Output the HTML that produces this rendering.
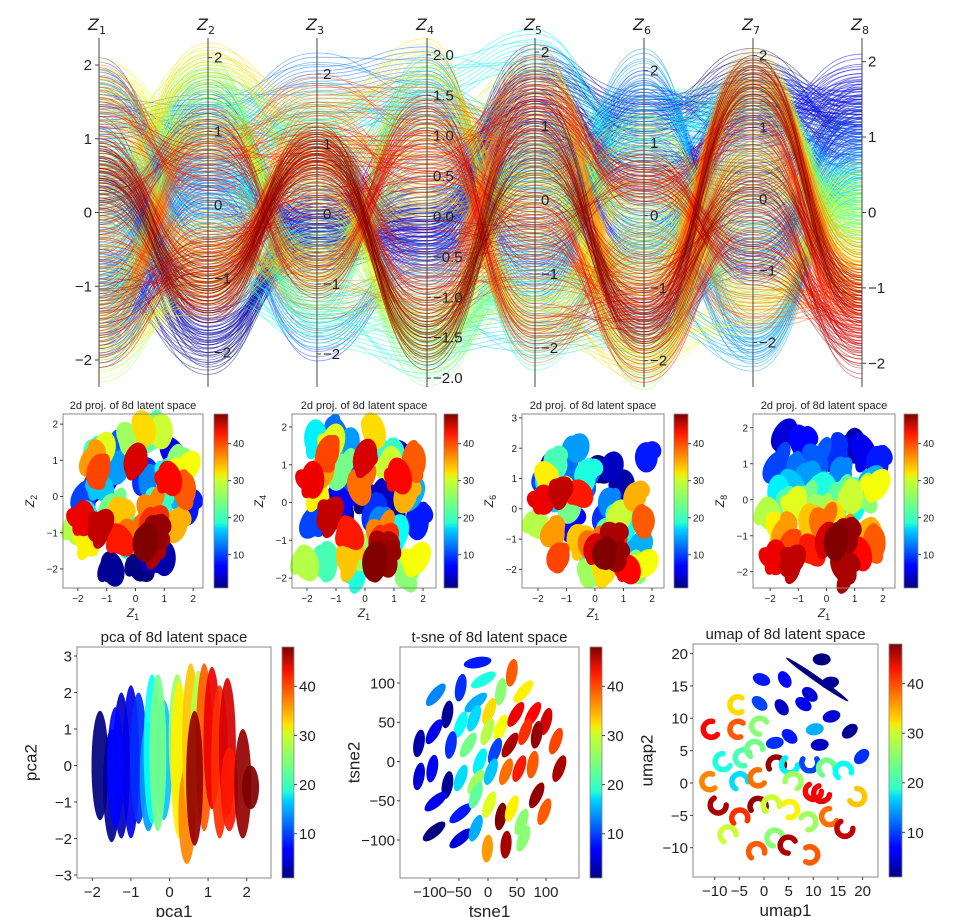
<!DOCTYPE html>
<html><head><meta charset="utf-8"><title>latent space</title>
<style>
html,body{margin:0;padding:0;background:#fff;}
svg{display:block;font-family:"Liberation Sans","DejaVu Sans",sans-serif;}
</style></head>
<body>
<svg id="fig" width="955" height="917" viewBox="0 0 955 917" xmlns="http://www.w3.org/2000/svg">
<defs>
<linearGradient id="jetgrad" x1="0" y1="1" x2="0" y2="0">
<stop offset="0" stop-color="#00007f"/><stop offset="0.11" stop-color="#0000ff"/><stop offset="0.125" stop-color="#0000ff"/><stop offset="0.34" stop-color="#00d4ff"/><stop offset="0.375" stop-color="#29ffce"/><stop offset="0.5" stop-color="#7dff7a"/><stop offset="0.625" stop-color="#ceff29"/><stop offset="0.66" stop-color="#ffe500"/><stop offset="0.89" stop-color="#ff1600"/><stop offset="1" stop-color="#7f0000"/>
</linearGradient>
</defs>
</svg>
<script>
// ---------- data ----------
const axisNames = ['1','2','3','4','5','6','7','8'];
const bundleClass = [1,2,3,4,5,6,7,8,9,10,11,12,13,14,15,16,17,18,19,20,21,22,23,24,25,26,27,28,29,30,31,32,33,34,35,36,37,38,39,40,41,42,43,44,45,46,47,48];
const bundleMeans = [
[0.2,-1.9,-0.3,0.0,1.6,1.3,1.8,1.2],[-0.8,-2.0,0.1,-0.2,1.5,0.5,1.2,1.0],[1.0,-1.7,-0.5,-0.3,1.2,0.8,0.2,1.5],[0.6,-1.6,-0.1,0.2,1.8,1.4,1.5,1.3],
[-1.5,0.2,-0.3,-0.2,0.5,1.5,1.0,1.8],[1.3,1.2,-0.2,1.2,-0.7,-1.4,-0.8,1.4],[-0.9,0.8,-0.5,0.0,1.2,-0.4,1.0,1.6],[1.8,-0.3,0.2,-0.5,-1.0,1.7,-0.9,1.0],
[0.3,0.5,0.1,-0.3,0.8,-0.3,1.6,1.3],[-1.8,0.0,-1.8,-0.5,-0.2,1.0,0.5,0.9],[-0.4,1.4,-0.6,0.6,0.0,0.8,-0.5,1.1],[-1.0,1.2,2.0,1.8,-1.2,1.5,1.2,0.8],
[0.5,0.4,-0.2,-0.6,0.4,0.2,-2.0,0.7],[-0.6,0.8,1.3,1.5,-0.5,2.0,-1.9,0.6],[1.6,0.1,-0.4,0.2,0.3,-1.2,-2.1,0.5],[-1.2,0.3,0.5,1.4,0.9,0.3,-0.2,0.4],
[0.0,1.5,1.2,-1.4,-1.8,-1.6,-0.7,0.3],[-1.7,-0.6,-1.2,1.7,2.0,0.9,1.4,0.2],[1.1,0.6,-1.3,-0.8,-1.4,-0.5,-1.2,0.0],[-0.3,-1.0,-1.6,-1.7,-0.8,1.2,1.0,0.3],
[0.8,-0.2,1.6,1.2,-2.0,-0.3,-0.6,0.1],[-1.4,1.1,1.1,-1.6,0.6,1.5,1.4,-0.2],[0.4,1.7,-1.5,-1.2,-1.2,-0.8,0.8,0.0],[-0.9,-0.4,-1.0,0.8,1.0,0.0,0.3,-0.1],
[1.5,0.9,0.3,-1.8,-0.6,-1.9,-0.1,0.2],[-0.2,1.6,-0.7,-1.3,0.5,-2.1,1.7,-0.3],[-2.0,-0.9,1.0,-1.6,-1.2,-0.5,0.6,-0.4],[0.9,1.8,0.9,1.0,1.6,-0.2,1.2,0.1],
[-1.1,1.3,-0.8,1.6,-0.3,0.6,-1.2,-0.1],[1.8,0.8,0.2,-1.5,0.1,-1.8,-1.6,0.4],[-1.7,-1.2,-0.4,0.3,0.2,1.1,-0.6,-0.8],[0.3,1.9,1.4,1.9,-1.6,-2.0,0.5,-0.5],
[-0.6,-0.5,0.6,-1.4,1.3,-1.0,1.8,-0.6],[1.4,-0.8,-0.6,0.2,-1.5,0.4,-1.4,-1.0],[-1.5,1.0,0.8,0.9,0.6,-0.8,1.5,-0.9],[0.5,-0.4,-1.2,-0.9,1.8,-1.4,0.2,-1.1],
[-0.2,-1.1,1.3,0.4,-0.4,-1.2,1.6,-0.7],[1.7,0.2,-0.8,1.1,-1.9,-0.4,-1.5,-1.2],[-1.3,0.7,1.7,1.3,0.8,-1.6,0.8,-1.3],[0.7,-0.7,0.4,-1.0,-0.9,-1.1,1.7,-1.0],
[-0.5,-1.2,0.9,-0.8,1.1,0.5,-0.8,-1.4],[1.2,0.5,1.0,0.7,-0.2,-2.0,-0.3,-1.5],[-1.8,-0.6,0.1,0.6,1.4,0.3,1.0,-1.6],[0.0,1.0,-0.9,1.2,-1.7,-1.3,1.3,-1.1],
[-1.2,-0.8,0.9,-0.3,-0.5,0.6,-0.9,-1.7],[0.6,-1.3,0.7,-1.2,0.2,-0.9,0.0,-1.9],[0.7,-1.0,0.8,-1.5,1.2,-1.6,0.3,-1.0],[0.3,-1.3,1.0,-1.6,0.7,-1.5,1.7,-1.2]];
const replicaOffsets = [-1,-0.8,-0.55,-0.35,-0.15,0,0.15,0.35,0.55,0.8,1,-0.45,0.45];

const pcaClass = [1,2,4,6,9,7,14,19,16,24,26,31,36,33,27,38,47,43,40,44,41,47,48];
const pcaX =     [-1.8,-1.5,-1.25,-1.0,-0.8,-1.4,-0.55,-0.45,-0.15,-0.3,0.2,0.25,0.45,0.55,0.75,0.9,0.65,1.1,1.3,1.5,1.55,1.9,2.1];
const pcaTop =   [1.5,1.0,2.0,2.2,2.0,1.6,1.2,2.5,1.8,2.5,2.5,2.3,0.0,2.8,2.6,2.8,1.5,2.7,2.2,2.4,0.5,1.0,0.0];
const pcaBot =   [-1.5,-2.1,-2.0,-2.0,-1.6,-1.7,-1.8,-1.6,-1.5,-1.8,-1.0,-2.0,-2.7,-1.5,-1.5,-1.8,-2.2,-1.2,-2.0,-1.4,-1.8,-2.0,-1.2];

const tsneClass = [8,13,9,20,15,25,38,31,2,6,3,19,17,32,27,30,43,42,44,39,9,24,18,10,46,40,47,5,7,2,17,26,16,37,41,38,46,6,8,23,29,48,31,25,47,38,1,5,15,35,46,25];
const tsneX = [-18,-90,-47,-8,-21,22,41,61,-70,-93,-119,-47,-24,2,-1,22,48,77,100,117,-64,-34,-14,12,38,64,84,-119,-96,-70,-47,-21,5,31,54,77,123,-90,-47,-21,2,22,41,58,84,97,-93,-47,-21,-1,31,61];
const tsneY = [126,85,94,104,75,89,113,89,60,38,23,47,55,64,38,43,60,60,51,26,21,21,0,13,21,38,34,-19,-9,-30,-21,-26,-13,-13,-9,-4,-9,-51,-66,-43,-55,-70,-60,-77,-43,-64,-89,-98,-85,-111,-106,-98];
const tsneAngle = [10,50,80,30,40,80,80,50,80,60,80,70,70,70,70,70,60,60,75,70,80,60,70,70,60,70,80,80,80,80,70,60,70,70,70,80,70,40,40,70,70,80,70,70,65,70,40,40,70,85,85,70];

const umapClass = [1,1,2,8,7,5,4,6,10,5,2,15,8,9,4,9,32,42,38,25,20,22,24,47,18,10,24,19,36,17,37,26,42,43,33,46,40,47,28,31,26,37,45,28,38,25,46,38];
const umapX = [11.7,10.8,13.4,-0.5,4.2,9.3,3.6,8,-0.9,13.7,17.4,10.3,5.2,2.2,11.3,19.8,-5.3,-10.7,-5.3,-0.9,-8.3,-4.2,-1.9,2.5,5.2,9.3,12.7,16.1,-11,-4.9,-1.2,5.9,10,11.7,18.8,-9.3,-4.9,-1.2,1.5,5.2,8.9,13.3,16.4,-7.3,-1.5,2.2,4.9,9.3];
const umapY = [19.1,16,15.5,16,16,13.7,11.7,12.2,12.3,10.3,8,8.3,7.2,6.2,5.9,4.1,12.1,8.3,8.3,8.8,3.3,3.9,5.2,2.8,2.8,3.1,2.3,1.8,0.2,0.2,0.8,0.2,-1.3,-1.6,-2.1,-3.4,-5.4,-3.6,-3.4,-4.1,-6,-5.2,-7,-8,-10.6,-8.5,-9.6,-11.1];
const umapKind = [0,2,0,0,0,0,0,0,0,0,0,0,0,0,0,0,1,1,1,1,1,1,1,1,1,1,1,1,1,1,1,1,1,1,1,1,1,1,1,1,1,1,1,1,1,1,1,1];
const umapRot = [0,-35,-10,20,60,40,55,35,40,-15,-40,-10,40,-10,-5,-45,0,-20,10,30,-30,20,60,90,-60,-90,60,70,-10,60,-20,120,-60,-50,-150,-60,80,90,70,160,150,-30,-60,60,70,40,30,180];

const cbTicks = [10,20,30,40];

// ---------- helpers ----------
const NS = 'http://www.w3.org/2000/svg';
const svg = document.getElementById('fig');
function mk(tag, parent){ const e = document.createElementNS(NS, tag); parent.appendChild(e); return e; }
function jet(v){
  const t = Math.max(0, Math.min(1, (v - 1) / 47));
  const c = x => Math.round(255 * Math.max(0, Math.min(1, x)));
  return 'rgb(' + c(1.5 - Math.abs(4*t - 3)) + ',' + c(1.5 - Math.abs(4*t - 2)) + ',' + c(1.5 - Math.abs(4*t - 1)) + ')';
}
function txt(parent, x, y, s, size, anchor, name){
  const t = mk('text', parent);
  t.setAttribute('x', x); t.setAttribute('y', y);
  t.setAttribute('font-size', size); t.setAttribute('text-anchor', anchor || 'middle');
  t.setAttribute('fill', '#222');
  
  
  t.textContent = s;
  return t;
}
function line(parent, x1, y1, x2, y2, stroke, w, name){
  const l = mk('line', parent);
  l.setAttribute('x1', x1); l.setAttribute('y1', y1); l.setAttribute('x2', x2); l.setAttribute('y2', y2);
  l.setAttribute('stroke', stroke); l.setAttribute('stroke-width', w);
  
  
  return l;
}
function fmt(v){ return (v < 0 ? '\u2212' : '') + Math.abs(v); }

// ---------- parallel coordinates ----------
const pc = mk('g', svg);


const AX = [99,208,317,427,535,644,753,862];
const AZ = [212.5,205,214,216.5,200,215.7,199,212.5];
const AS = [73.75,73.7,70,80.8,74,72.5,71.7,75.4];
function pcY(i, v){ return AZ[i] - v * AS[i]; }
const linesG = mk('g', pc);


linesG.setAttribute('fill', 'none');
for (let b = 0; b < bundleMeans.length; b++){
  const col = jet(bundleClass[b]);
  for (let k = 0; k < replicaOffsets.length; k++){
    const pts = bundleMeans[b].map((v, i) => [AX[i], pcY(i, v + 0.3 * replicaOffsets[(k*5 + i*3) % replicaOffsets.length])]);
    let d = 'M' + pts[0][0] + ',' + pts[0][1].toFixed(1);
    for (let i = 1; i < pts.length; i++){
      const h = (pts[i][0] - pts[i-1][0]) / 2;
      d += ' C' + (pts[i-1][0] + h) + ',' + pts[i-1][1].toFixed(1) + ' ' + (pts[i][0] - h) + ',' + pts[i][1].toFixed(1) + ' ' + pts[i][0] + ',' + pts[i][1].toFixed(1);
    }
    const p = mk('path', linesG);
    p.setAttribute('d', d);
    p.setAttribute('stroke', col);
    p.setAttribute('stroke-width', '0.8');
    p.setAttribute('stroke-opacity', '0.5');
    
    
  }
}
for (let i = 0; i < 8; i++){
  line(pc, AX[i], 38, AX[i], 387, '#444', 1, 'axis-z' + (i+1));
  const lab = txt(pc, AX[i] - 2, 30, 'Z', 16, 'middle', 'axis-label-z' + (i+1));
  lab.setAttribute('font-style', 'italic');
  lab.setAttribute('font-family', '"DejaVu Sans", sans-serif');
  const sub = mk('tspan', lab);
  sub.setAttribute('font-size', '11'); sub.setAttribute('dy', '4'); sub.setAttribute('font-style', 'normal');
  sub.textContent = axisNames[i];
  let ticks = [-2,-1,0,1,2];
  if (i === 3) ticks = [-2,-1.5,-1,-0.5,0,0.5,1,1.5,2];
  ticks.forEach(v => {
    const y = pcY(i, v);
    const s = i === 3 ? ((v < 0 ? '\u2212' : '') + Math.abs(v).toFixed(1)) : fmt(v);
    if (i === 0){
      line(pc, AX[i] - 4, y, AX[i], y, '#444', 1, 'tick-mark');
      txt(pc, AX[i] - 7, y + 5, s, 15, 'end', 'tick-label-z1');
    } else {
      line(pc, AX[i], y, AX[i] + 4, y, '#444', 1, 'tick-mark');
      txt(pc, AX[i] + 6, y + 5, s, 15, 'start', 'tick-label-z' + (i+1));
    }
  });
}

// ---------- generic panel pieces ----------
function frame(g, x0, y0, x1, y1){
  const r = mk('rect', g);
  r.setAttribute('x', x0); r.setAttribute('y', y0); r.setAttribute('width', x1 - x0); r.setAttribute('height', y1 - y0);
  r.setAttribute('fill', 'none'); r.setAttribute('stroke', '#888'); r.setAttribute('stroke-width', '1');
  
  
}
function colorbar(g, x0, x1, y0, y1, fs){
  const r = mk('rect', g);
  r.setAttribute('x', x0); r.setAttribute('y', y0); r.setAttribute('width', x1 - x0); r.setAttribute('height', y1 - y0);
  r.setAttribute('fill', 'url(#jetgrad)'); r.setAttribute('stroke', '#888'); r.setAttribute('stroke-width', '0.8');
  
  
  cbTicks.forEach(v => {
    const y = y1 - (v - 1) / 47 * (y1 - y0);
    line(g, x1, y, x1 + 3, y, '#444', 1, 'colorbar-tick');
    txt(g, x1 + 5, y + fs * 0.36, String(v), fs, 'start', 'colorbar-tick-label');
  });
}
function axesTicks(g, fr, xt, yt, sx, sy, fs, xname, yname, xlab, ylab, title, titleFs){
  frame(g, fr[0], fr[1], fr[2], fr[3]);
  xt.forEach(v => { const x = sx(v); line(g, x, fr[3], x, fr[3] + 3, '#444', 1, 'x-tick'); txt(g, x, fr[3] + 4 + fs, fmt(v), fs, 'middle', 'x-tick-label'); });
  yt.forEach(v => { const y = sy(v); line(g, fr[0] - 3, y, fr[0], y, '#444', 1, 'y-tick'); txt(g, fr[0] - 5, y + fs * 0.36, fmt(v), fs, 'end', 'y-tick-label'); });
  const xl = txt(g, (fr[0] + fr[2]) / 2, fr[3] + 2 * fs + 9, xlab[0], fs + 2, 'middle', xname);
  if (xlab[1]){ xl.setAttribute('font-style', 'italic'); const s = mk('tspan', xl); s.setAttribute('font-size', fs - 1); s.setAttribute('dy', '3'); s.setAttribute('font-style', 'normal'); s.textContent = xlab[1]; }
  const yx = fr[0] - fs * 2.3 - 6, yy = (fr[1] + fr[3]) / 2;
  const yl = txt(g, yx, yy, ylab[0], fs + 2, 'middle', yname);
  yl.setAttribute('transform', 'rotate(-90 ' + yx + ' ' + yy + ')');
  if (ylab[1]){ yl.setAttribute('font-style', 'italic'); const s = mk('tspan', yl); s.setAttribute('font-size', fs - 1); s.setAttribute('dy', '3'); s.setAttribute('font-style', 'normal'); s.textContent = ylab[1]; }
  txt(g, (fr[0] + fr[2]) / 2, fr[1] - 5, title, titleFs, 'middle', 'panel-title');
}
function ellipse(g, cx, cy, rx, ry, rot, col, name){
  const e = mk('ellipse', g);
  e.setAttribute('cx', cx.toFixed(1)); e.setAttribute('cy', cy.toFixed(1));
  e.setAttribute('rx', rx.toFixed(1)); e.setAttribute('ry', ry.toFixed(1));
  e.setAttribute('transform', 'rotate(' + rot + ' ' + cx.toFixed(1) + ' ' + cy.toFixed(1) + ')');
  e.setAttribute('fill', col);
  
  
  return e;
}

// ---------- 2d projections ----------
const projPanels = [
  {fr:[63,414,203,588], x0:135.5, xs:28.8, y0:496.5, ys:36.2, cb:[214,228], k:1, yt:[-2,-1,0,1,2]},
  {fr:[292,414,436,588], x0:365, xs:29, y0:502.5, ys:37.8, cb:[444,458], k:3, yt:[-2,-1,0,1,2]},
  {fr:[522,414,664,588], x0:595, xs:28.5, y0:508.8, ys:30.3, cb:[674,688], k:5, yt:[-2,-1,0,1,2,3]},
  {fr:[753,414,895,588], x0:826.5, xs:28.2, y0:499.7, ys:36, cb:[904,918], k:7, yt:[-2,-1,0,1,2]}
];
projPanels.forEach((P) => {
  const g = mk('g', svg);
  
  
  const sx = v => P.x0 + v * P.xs, sy = v => P.y0 - v * P.ys;
  const pts = mk('g', g);
  
  
  for (let b = 0; b < bundleMeans.length; b++){
    const vx = bundleMeans[b][0], vy = bundleMeans[b][P.k];
    ellipse(pts, sx(vx), sy(vy), 0.4 * P.xs, 0.5 * P.ys, (b % 5 - 2) * 15, jet(bundleClass[b]), 'cluster-class-' + bundleClass[b]);
    ellipse(pts, sx(vx + 0.3 * replicaOffsets[b % 13]), sy(vy - 0.35 * replicaOffsets[(b + 4) % 13]), 0.25 * P.xs, 0.38 * P.ys, 20, jet(bundleClass[b]), 'cluster-class-' + bundleClass[b]);
    ellipse(pts, sx(vx - 0.3 * replicaOffsets[(b + 7) % 13]), sy(vy + 0.3 * replicaOffsets[(b + 2) % 13]), 0.28 * P.xs, 0.3 * P.ys, -30, jet(bundleClass[b]), 'cluster-class-' + bundleClass[b]);
  }
  axesTicks(g, P.fr, [-2,-1,0,1,2], P.yt, sx, sy, 10, 'x-axis-title', 'y-axis-title', ['Z','1'], ['Z', String(P.k + 1)], '2d proj. of 8d latent space', 11);
  colorbar(g, P.cb[0], P.cb[1], 414, 588, 10);
});

// ---------- PCA ----------
(function(){
  const g = mk('g', svg);
  
  
  const fr = [77,647,271,878];
  const sx = v => 169.5 + v * 38.6, sy = v => 765.5 - v * 36.5;
  const pts = mk('g', g);
  
  
  for (let i = 0; i < pcaX.length; i++){
    const cy = (sy(pcaTop[i]) + sy(pcaBot[i])) / 2, ry = (sy(pcaBot[i]) - sy(pcaTop[i])) / 2;
    const e = ellipse(pts, sx(pcaX[i]), cy, 0.22 * 38.6, ry, 0, jet(pcaClass[i]), 'pca-cluster-class-' + pcaClass[i]);
    e.setAttribute('opacity', '0.92');
  }
  axesTicks(g, fr, [-2,-1,0,1,2], [-3,-2,-1,0,1,2,3], sx, sy, 15, 'x-axis-title', 'y-axis-title', ['pca1'], ['pca2'], 'pca of 8d latent space', 15);
  colorbar(g, 282, 294, 647, 878, 15);
})();

// ---------- t-SNE ----------
(function(){
  const g = mk('g', svg);
  
  
  const fr = [400,647,579,878];
  const sx = v => 488 + v * 0.58, sy = v => 761.5 - v * 0.785;
  const pts = mk('g', g);
  
  
  for (let i = 0; i < tsneX.length; i++){
    ellipse(pts, sx(tsneX[i]), sy(tsneY[i]), 14, 5.5, -tsneAngle[i], jet(tsneClass[i]), 'tsne-cluster-class-' + tsneClass[i]);
  }
  axesTicks(g, fr, [-100,-50,0,50,100], [-100,-50,0,50,100], sx, sy, 15, 'x-axis-title', 'y-axis-title', ['tsne1'], ['tsne2'], 't-sne of 8d latent space', 15);
  colorbar(g, 590, 602, 647, 878, 15);
})();

// ---------- UMAP ----------
(function(){
  const g = mk('g', svg);
  
  
  const fr = [693,644,878,877];
  const sx = v => 764 + v * 4.93, sy = v => 783 - v * 6.47;
  const pts = mk('g', g);
  
  
  for (let i = 0; i < umapX.length; i++){
    const cx = sx(umapX[i]), cy = sy(umapY[i]), col = jet(umapClass[i]);
    if (umapKind[i] === 0){
      ellipse(pts, cx, cy, 9, 6, umapRot[i], col, 'umap-cluster-class-' + umapClass[i]);
    } else if (umapKind[i] === 2){
      ellipse(pts, cx, cy, 38, 2.8, -umapRot[i], col, 'umap-cluster-class-' + umapClass[i]);
    } else {
      const p = mk('path', pts);
      const r = 8;
      p.setAttribute('d', 'M' + (cx + r * 0.5) + ',' + (cy - r * 0.87) + ' A' + r + ',' + r + ' 0 1 0 ' + (cx + r * 0.5) + ',' + (cy + r * 0.87));
      p.setAttribute('transform', 'rotate(' + umapRot[i] + ' ' + cx.toFixed(1) + ' ' + cy.toFixed(1) + ')');
      p.setAttribute('fill', 'none'); p.setAttribute('stroke', col); p.setAttribute('stroke-width', '5.5'); p.setAttribute('stroke-linecap', 'round');
      
      
    }
  }
  axesTicks(g, fr, [-10,-5,0,5,10,15,20], [-10,-5,0,5,10,15,20], sx, sy, 15, 'x-axis-title', 'y-axis-title', ['umap1'], ['umap2'], 'umap of 8d latent space', 15);
  colorbar(g, 889, 902, 644, 877, 15);
})();
</script>
</body></html>
